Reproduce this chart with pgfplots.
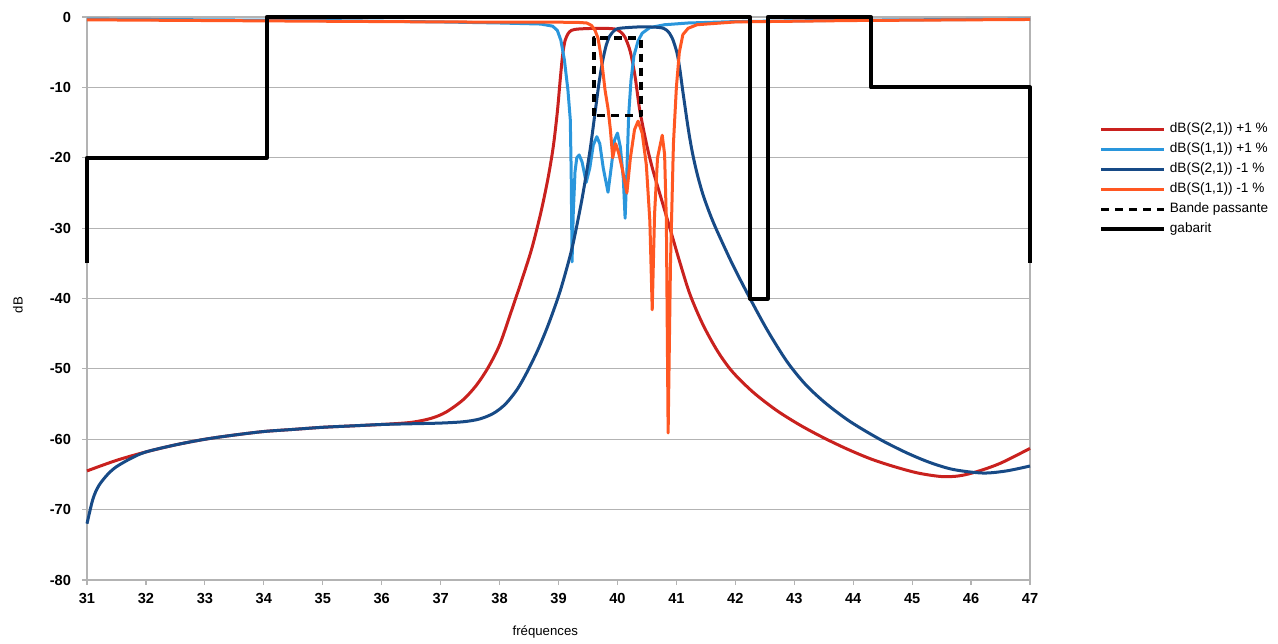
\documentclass[border=0pt]{standalone}
\usepackage{pgfplots}
\pgfplotsset{compat=1.18}
\usepackage{fontspec}
\setmainfont{Liberation Sans}
\definecolor{cRed}{HTML}{C9211E}
\definecolor{cLBlue}{HTML}{2A96DC}
\definecolor{cDBlue}{HTML}{174A86}
\definecolor{cOrange}{HTML}{FF5722}
\definecolor{cGrid}{HTML}{B3B3B3}
\begin{document}
\begin{tikzpicture}
\path[use as bounding box] (0,0) rectangle (639pt,321.5pt);
\begin{axis}[
  at={(43.5pt,31.5pt)}, anchor=south west,
  scale only axis, width=471.5pt, height=281.5pt,
  xmin=31, xmax=47, ymin=-80, ymax=0,
  xtick={31,32,...,47}, ytick={-80,-70,...,0},
  xtick pos=bottom, ytick pos=left,
  tick align=outside, major tick length=2.5pt,
  axis line style={cGrid, line width=0.6pt},
  tick style={cGrid, line width=0.6pt},
  ymajorgrids, grid style={cGrid, line width=0.6pt},
  clip=false,
  /pgf/number format/assume math mode=true,
  ticklabel style={font=\fontsize{7.3}{8}\selectfont\bfseries},
  yticklabel style={xshift=-2pt},
  xticklabel style={yshift=-0.5pt},
  xlabel={fréquences}, ylabel={dB},
  xlabel style={at={(axis description cs:0.486,0)}, anchor=center, yshift=-26pt, font=\fontsize{6.6}{8}\selectfont},
  ylabel style={at={(axis description cs:-0.0732,0.488)}, anchor=center, font=\fontsize{6.6}{8}\selectfont},
  legend cell align=left,
  legend image code/.code={\draw[#1] (0pt,0pt) -- (31.5pt,0pt);},
  legend style={at={(1.0668,0.826)}, anchor=north west, draw=none, fill=none,
    font=\fontsize{6.8}{8}\selectfont, row sep=0pt,
    nodes={inner sep=1.75pt, text height=5pt, text depth=1.5pt}},
  every axis plot/.append style={line join=round},
]
% dB(S(2,1)) +1 %
\addplot[cRed, line width=1.5pt, smooth, tension=0.5] coordinates {
(31,-64.5) (31.5,-63.0) (32,-61.8) (32.5,-60.8) (33,-60.0) (33.5,-59.4) (34,-58.9) (34.5,-58.6) (35,-58.3) (35.5,-58.1) (36,-57.9) (36.5,-57.6) (36.85,-57.0) (37.1,-56.1) (37.38,-54.4) (37.6,-52.4) (37.8,-49.9) (38.0,-46.6) (38.2,-41.8) (38.4,-36.8) (38.55,-32.8) (38.7,-27.8) (38.82,-23) (38.91,-18.5) (38.98,-13.5) (39.03,-8.8) (39.07,-5.4) (39.11,-3.4) (39.16,-2.4) (39.22,-1.9) (39.35,-1.7) (39.7,-1.6) (39.95,-1.7) (40.05,-2.1) (40.13,-2.9) (40.22,-5) (40.3,-8.5) (40.38,-13.3) (40.5,-18.3) (40.6,-21.7) (40.75,-26) (40.89,-30) (41.05,-34.6) (41.23,-39.4) (41.45,-43.7) (41.7,-47.5) (41.95,-50.4) (42.3,-53.3) (42.7,-55.9) (43.1,-58.0) (43.5,-59.8) (43.9,-61.4) (44.3,-62.8) (44.7,-63.9) (45.1,-64.8) (45.5,-65.3) (45.8,-65.2) (46.1,-64.6) (46.5,-63.4) (47,-61.3)};
\addlegendentry{dB(S(2,1)) +1 \%}
% dB(S(1,1)) +1 %
\addplot[cLBlue, line width=1.5pt] coordinates {
(31,-0.3) (33,-0.4) (35,-0.5) (37,-0.7) (38,-0.85) (38.7,-1.0) (38.9,-1.3) (38.98,-1.9) (39.04,-3.3) (39.1,-6.1) (39.16,-10.4) (39.2,-14.6) (39.215,-22) (39.23,-34.8) (39.25,-28) (39.28,-22) (39.31,-20) (39.35,-19.6) (39.4,-20.6) (39.47,-23.5) (39.53,-21.5) (39.59,-18.2) (39.65,-17) (39.7,-18) (39.76,-21.5) (39.84,-24.9) (39.9,-21) (39.95,-17.5) (40.0,-16.5) (40.05,-18.5) (40.1,-23) (40.13,-28.6) (40.16,-22) (40.19,-14) (40.23,-9) (40.28,-5.5) (40.35,-3.4) (40.42,-2.3) (40.55,-1.5) (40.8,-1.1) (41.2,-0.85) (42,-0.65) (44,-0.45) (47,-0.3)};
\addlegendentry{dB(S(1,1)) +1 \%}
% dB(S(2,1)) -1 %
\addplot[cDBlue, line width=1.5pt, smooth, tension=0.5] coordinates {
(31,-72) (31.1,-68.5) (31.2,-66.6) (31.35,-65) (31.5,-63.9) (31.75,-62.7) (32,-61.8) (32.5,-60.8) (33,-60.0) (33.5,-59.4) (34,-58.9) (34.5,-58.6) (35,-58.3) (35.5,-58.1) (36,-57.9) (36.5,-57.8) (37.0,-57.7) (37.4,-57.5) (37.67,-57.1) (37.9,-56.3) (38.1,-55.0) (38.3,-52.9) (38.47,-50.4) (38.65,-47.3) (38.8,-44.3) (38.92,-41.6) (39.03,-38.9) (39.15,-35.4) (39.25,-32.1) (39.4,-25.8) (39.53,-19.2) (39.62,-13.6) (39.69,-9.2) (39.75,-6.2) (39.81,-4.0) (39.87,-2.7) (39.95,-1.9) (40.04,-1.6) (40.4,-1.4) (40.72,-1.5) (40.84,-1.9) (40.93,-3) (41.01,-5.1) (41.06,-7.5) (41.11,-10.6) (41.2,-15.8) (41.27,-19.2) (41.35,-22.2) (41.45,-25.2) (41.57,-28) (41.69,-30.4) (41.95,-35.1) (42.25,-40) (42.55,-44.6) (42.88,-49.0) (43.2,-52.3) (43.55,-55.0) (43.95,-57.5) (44.45,-60.0) (44.9,-61.9) (45.3,-63.3) (45.7,-64.3) (46.2,-64.8) (46.6,-64.5) (47,-63.8)};
\addlegendentry{dB(S(2,1)) -1 \%}
% dB(S(1,1)) -1 %
\addplot[cOrange, line width=1.5pt] coordinates {
(31,-0.4) (33,-0.5) (35,-0.6) (37,-0.7) (39.3,-0.75) (39.48,-0.85) (39.56,-1.2) (39.62,-1.9) (39.67,-3) (39.71,-5) (39.75,-7.5) (39.79,-10.4) (39.84,-13) (39.88,-16) (39.92,-20) (39.97,-18) (40.02,-19.3) (40.08,-21.5) (40.16,-25) (40.22,-20) (40.29,-16) (40.35,-14.8) (40.42,-16.5) (40.49,-21) (40.55,-29) (40.59,-41.6) (40.63,-28) (40.68,-20) (40.76,-16.8) (40.8,-19.5) (40.83,-29) (40.86,-59.1) (40.9,-35) (40.95,-18) (41.0,-10) (41.05,-5) (41.11,-2.5) (41.2,-1.6) (41.35,-1.1) (42,-0.7) (44,-0.5) (47,-0.35)};
\addlegendentry{dB(S(1,1)) -1 \%}
% Bande passante
\addplot[black, line width=1.7pt, dash pattern=on 4pt off 3pt] coordinates {
(39.6,-14) (39.6,-3) (40.4,-3) (40.4,-14) (39.6,-14)};
\addlegendentry{Bande passante}
% gabarit
\addplot[black, line width=2pt] coordinates {
(31,-35) (31,-20) (34.05,-20) (34.05,0) (42.25,0) (42.25,-40) (42.55,-40) (42.55,0) (44.3,0) (44.3,-10) (47,-10) (47,-35)};
\addlegendentry{gabarit}
\end{axis}
\end{tikzpicture}
\end{document}
